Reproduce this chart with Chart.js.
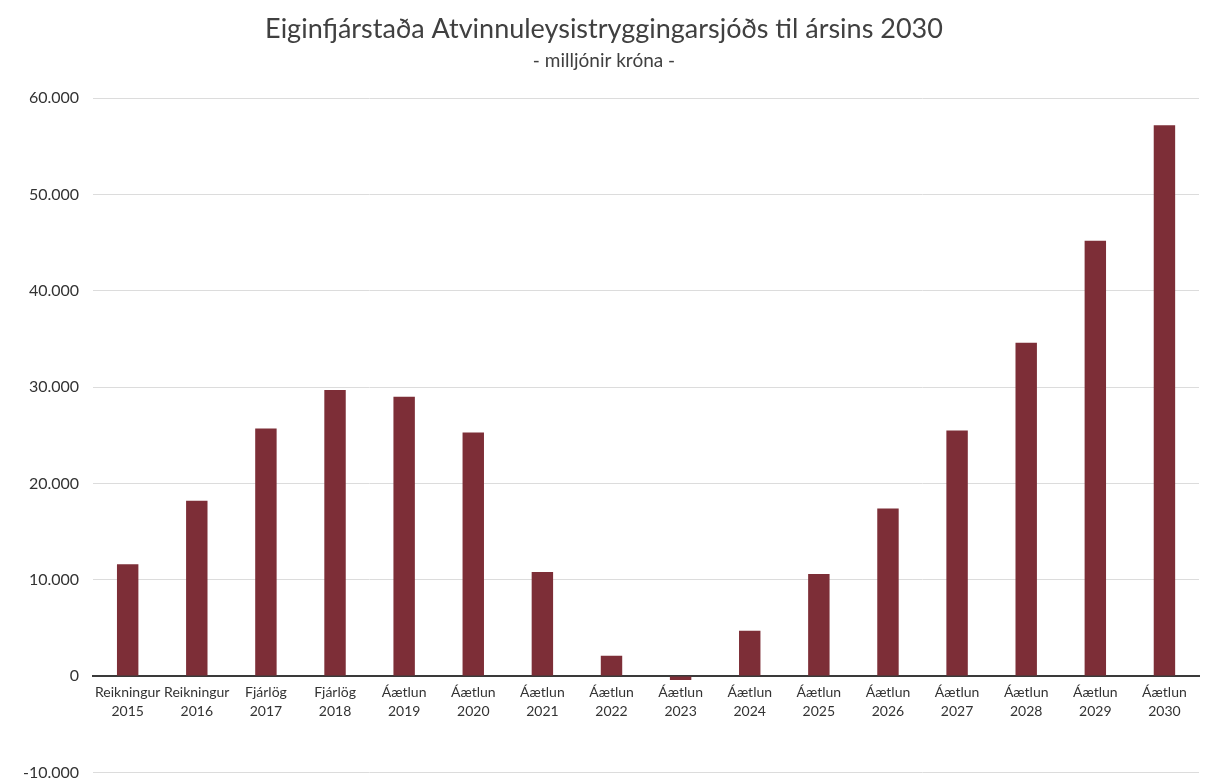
<!DOCTYPE html>
<html>
<head>
<meta charset="utf-8">
<script src="https://cdn.jsdelivr.net/npm/chart.js@4"></script>
<style>
  html, body { margin: 0; padding: 0; background: #fff; }
  #wrap { width: 1210px; height: 782px; overflow: hidden; }
</style>
</head>
<body>
<div id="wrap"><canvas id="chart" width="1210" height="796"></canvas></div>
<script>
const categories = [
  ['Reikningur', '2015'], ['Reikningur', '2016'], ['Fjárlög', '2017'], ['Fjárlög', '2018'],
  ['Áætlun', '2019'], ['Áætlun', '2020'], ['Áætlun', '2021'], ['Áætlun', '2022'],
  ['Áætlun', '2023'], ['Áætlun', '2024'], ['Áætlun', '2025'], ['Áætlun', '2026'],
  ['Áætlun', '2027'], ['Áætlun', '2028'], ['Áætlun', '2029'], ['Áætlun', '2030']
];
const eigid = [11600, 18200, 25700, 29700, 29000, 25300, 10800, 2100,
               -400, 4700, 10600, 17400, 25500, 34600, 45200, 57200];
const yMin = -10000, yMax = 60000, yStep = 10000;

const fmt = v => {
  const s = Math.abs(v).toString().replace(/\B(?=(\d{3})+(?!\d))/g, '.');
  return (v < 0 ? '-' : '') + s;
};

new Chart(document.getElementById('chart'), {
  type: 'bar',
  data: {
    labels: categories,
    datasets: [{
      data: eigid,
      backgroundColor: '#7d2e37',
      barPercentage: 0.31,
      categoryPercentage: 1
    }]
  },
  options: {
    responsive: false,
    animation: false,
    layout: { padding: { left: 9, right: 11, top: 7, bottom: 0 } },
    plugins: {
      legend: { display: false },
      tooltip: { enabled: false },
      title: {
        display: true,
        text: 'Eiginfjárstaða Atvinnuleysistryggingarsjóðs til ársins 2030',
        color: '#404040',
        font: { family: 'Lato', size: 27, weight: 'normal' },
        padding: { top: 6, bottom: 4 }
      },
      subtitle: {
        display: true,
        text: '- milljónir króna -',
        color: '#404040',
        font: { family: 'Lato', size: 19, weight: 'normal' },
        padding: { top: 0, bottom: 26 }
      }
    },
    scales: {
      x: {
        position: { y: 0 },
        grid: { display: false },
        border: { display: true, color: '#3a3a3a', width: 2 },
        ticks: {
          color: '#333',
          font: { family: 'Lato', size: 14, lineHeight: 1.35 },
          padding: -1,
          maxRotation: 0,
          autoSkip: false
        }
      },
      y: {
        min: yMin,
        max: yMax,
        grid: { color: '#dcdcdc', drawTicks: false },
        border: { display: false },
        ticks: {
          stepSize: yStep,
          color: '#333',
          font: { family: 'Lato', size: 16 },
          padding: 14,
          callback: v => fmt(v)
        }
      }
    }
  }
});
</script>
</body>
</html>
